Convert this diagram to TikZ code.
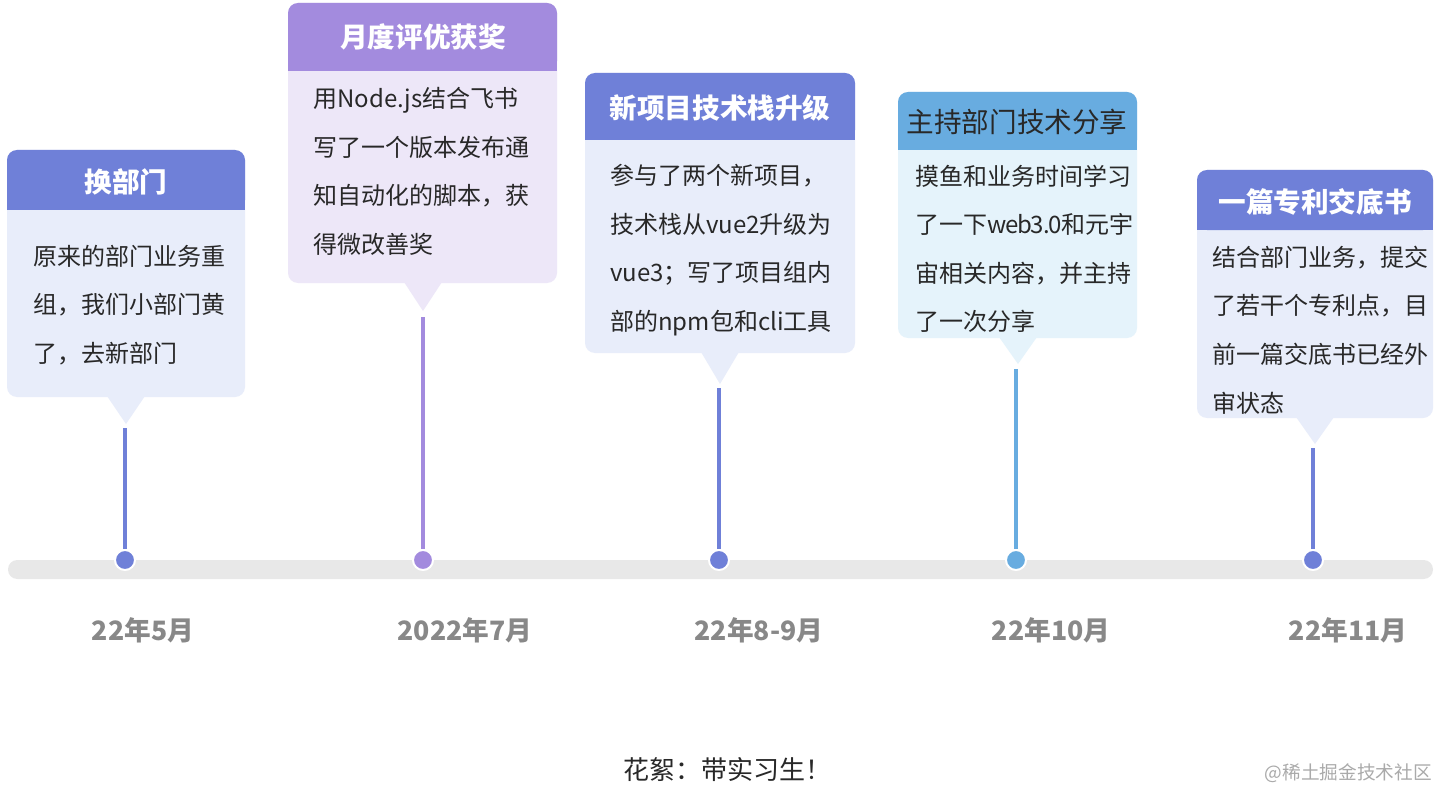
\documentclass[tikz,border=0pt]{standalone}
\usepackage{fontspec}
\setmainfont{Noto Sans CJK SC}
\definecolor{hdrA}{RGB}{111,128,216}
\definecolor{bodyA}{RGB}{232,237,250}
\definecolor{hdrB}{RGB}{163,139,222}
\definecolor{bodyB}{RGB}{237,231,248}
\definecolor{hdrC}{RGB}{104,172,224}
\definecolor{bodyC}{RGB}{229,243,251}
\definecolor{barc}{RGB}{232,232,232}
\definecolor{datec}{RGB}{136,136,136}
\definecolor{txt}{RGB}{40,40,40}
\definecolor{wm}{RGB}{170,170,170}
\tikzset{
  headtxt/.style={font=\fontsize{20.7}{24}\selectfont\bfseries, text=white, inner sep=0pt},
  headtxtdark/.style={font=\fontsize{20.7}{24}\selectfont, text=txt, inner sep=0pt},
  bodytxt/.style={font=\fontsize{18}{36.4}\selectfont, text=txt, align=left, anchor=west, inner sep=0pt},
  datetxt/.style={font=\fontsize{20}{24}\selectfont\bfseries, text=datec, inner sep=0pt},
  stem/.style={line width=3pt},
  tl dot/.style={circle, draw=white, line width=1.5pt, minimum size=15pt, inner sep=0pt},
}
% \mycard{x1}{x2}{ytop}{yhead}{ybot}{xc}{tip}{head}{body}
\newcommand{\mycard}[9]{%
  \fill[#9, rounded corners=7.5pt] (#1,#3) rectangle (#2,#5);
  \fill[#8, rounded corners=7.5pt] (#1,#3) rectangle (#2,#4);
  \fill[#8] (#1,#3+14) rectangle (#2,#4);
  \fill[#9] (#6-19,#5-1) -- (#6+19,#5-1) -- (#6,#7) -- cycle;
}
\newcommand{\tightlat}[1]{{\addfontfeature{LetterSpace=-5}#1}}
\begin{document}
\begin{tikzpicture}[x=0.75pt,y=-0.75pt]
\useasboundingbox (0,0) rectangle (1453,806);
\fill[white] (0,0) rectangle (1453,806);

% timeline bar
\fill[barc, rounded corners=7pt] (8,560) rectangle (1433,579);

% cards
\mycard{7}{245}{150}{210}{397}{126}{424}{hdrA}{bodyA}
\mycard{288}{557}{3}{71}{283}{423}{311}{hdrB}{bodyB}
\mycard{585}{855}{73}{140}{353}{720}{384}{hdrA}{bodyA}
\mycard{898}{1137}{92}{150}{338}{1018}{364}{hdrC}{bodyC}
\mycard{1197}{1433}{170}{230}{418}{1315}{444}{hdrA}{bodyA}

% headers
\node[headtxt] (h1) at (126,182) {换部门};
\node[headtxt] (h2) at (423,37) {月度评优获奖};
\node[headtxt] (h3) at (720,108) {新项目技术栈升级};
\node[headtxtdark] (h4) at (1017,122) {主持部门技术分享};
\node[headtxt] (h5) at (1315,202) {一篇专利交底书};

% bodies
\node[bodytxt] (b1) at (33,305) {原来的部门业务重\\组，我们小部门黄\\了，去新部门};
\node[bodytxt] (b2) at (313,171.5) {用Node.js结合飞书\\写了一个版本发布通\\知自动化的脚本，获\\得微改善奖};
\node[bodytxt] (b3) at (610,250) {参与了两个新项目，\\技术栈从vue2升级为\\vue3；写了项目组内\\部的npm包和cli工具};
\node[bodytxt] (b4) at (915,249) {摸鱼和业务时间学习\\了一下\tightlat{web3.0}和元宇\\宙相关内容，并主持\\了一次分享};
\node[bodytxt] (b5) at (1212,330) {结合部门业务，提交\\了若干个专利点，目\\前一篇交底书已经外\\审状态};

% tail tips
\coordinate (t1) at (125,428);
\coordinate (t2) at (423,317);
\coordinate (t3) at (719,388);
\coordinate (t4) at (1016,369);
\coordinate (t5) at (1313,448);

% dots
\node[tl dot, fill=hdrA] (d1) at (125,560) {};
\node[tl dot, fill=hdrB] (d2) at (423,560) {};
\node[tl dot, fill=hdrA] (d3) at (719,560) {};
\node[tl dot, fill=hdrC] (d4) at (1016,560) {};
\node[tl dot, fill=hdrA] (d5) at (1313,560) {};

% stems
\draw[stem, hdrA] (t1) -- (d1.north);
\draw[stem, hdrB] (t2) -- (d2.north);
\draw[stem, hdrA] (t3) -- (d3.north);
\draw[stem, hdrC] (t4) -- (d4.north);
\draw[stem, hdrA] (t5) -- (d5.north);

% dates
\node[datetxt] (e1) at (143,630) {22年5月};
\node[datetxt] (e2) at (465,630) {2022年7月};
\node[datetxt] (e3) at (759,630) {22年8-9月};
\node[datetxt] (e4) at (1051,630) {22年10月};
\node[datetxt] (e5) at (1348,630) {22年11月};

% footer
\node[font=\fontsize{19.5}{24}\selectfont, text=txt, inner sep=0pt] (foot) at (727,770) {花絮：带实习生！};
\node[font=\fontsize{14}{16}\selectfont, text=wm, inner sep=0pt, anchor=east] (wmk) at (1432,773) {@稀土掘金技术社区};
\end{tikzpicture}
\end{document}
